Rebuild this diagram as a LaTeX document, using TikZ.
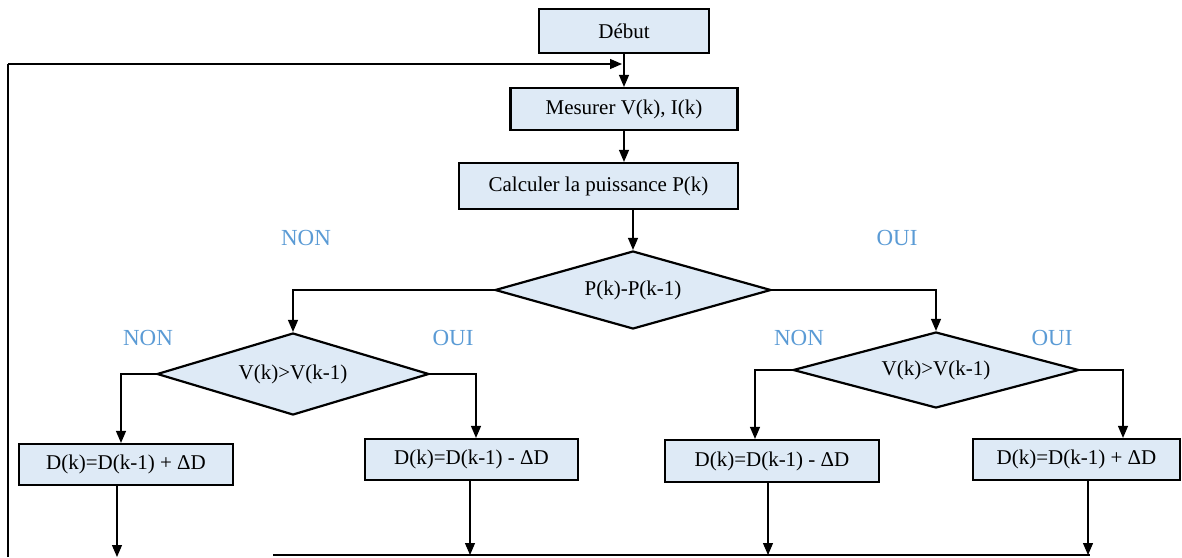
\documentclass[tikz,border=0pt]{standalone}
\usepackage{fontspec}
\setmainfont{Liberation Serif}
\usetikzlibrary{shapes.geometric,arrows.meta,calc}
\definecolor{boxfill}{RGB}{222,234,246}
\definecolor{labelblue}{RGB}{91,155,213}
\begin{document}
\begin{tikzpicture}[x=1pt,y=-1pt,
  stepbox/.style={draw=black,fill=boxfill,line width=2.2pt,rectangle,inner sep=0pt,
    font=\fontsize{21}{24}\selectfont},
  decision/.style={draw=black,fill=boxfill,line width=2.2pt,diamond,aspect=3,inner sep=0pt,
    font=\fontsize{21}{24}\selectfont},
  flow/.style={line width=1.2pt,-{Triangle[width=10pt,length=12pt]}},
  plain/.style={line width=1.2pt},
  answer/.style={text=labelblue,inner sep=0pt,font=\fontsize{23}{26}\selectfont}]
\useasboundingbox (0,0) rectangle (1182,557);

% main column
\node[stepbox,minimum width=170pt,minimum height=44pt] (debut) at (624,31) {Début};
\node[stepbox,minimum width=227pt,minimum height=42pt] (mesure) at (624,109) {Mesurer V(k), I(k)};
\node[stepbox,minimum width=279pt,minimum height=46pt] (calcul) at (598.5,186) {Calculer la puissance P(k)};
\node[decision,minimum width=276pt,minimum height=78pt] (dp) at (633,290) {P(k)-P(k-1)};

% second level tests
\node[decision,minimum width=272pt,minimum height=82pt] (dvl) at (293,374) {V(k)>V(k-1)};
\node[decision,minimum width=286pt,minimum height=76pt] (dvr) at (936,370) {V(k)>V(k-1)};

% duty cycle updates
\node[stepbox,minimum width=214pt,minimum height=41pt] (inc1) at (126,464.5) {D(k)=D(k-1) + ΔD};
\node[stepbox,minimum width=213pt,minimum height=41pt] (dec1) at (471.5,459.5) {D(k)=D(k-1) - ΔD};
\node[stepbox,minimum width=214pt,minimum height=42pt] (dec2) at (772,461) {D(k)=D(k-1) - ΔD};
\node[stepbox,minimum width=207pt,minimum height=41pt] (inc2) at (1076.5,459.5) {D(k)=D(k-1) + ΔD};

% branch labels
\node[answer] (n0) at (306,238) {NON};
\node[answer] (o0) at (897,238) {OUI};
\node[answer] (n1) at (148,338) {NON};
\node[answer] (o1) at (453,338) {OUI};
\node[answer] (n2) at (799,338) {NON};
\node[answer] (o2) at (1052,338) {OUI};

% free ends of the return path
\coordinate (loopin) at (622,64);
\coordinate (loopfoot) at (8,557);
\coordinate (out1) at (117,557);
\coordinate (out2) at (470,555);
\coordinate (out3) at (768,555);
\coordinate (out4) at (1088,555);
\coordinate (busL) at (273,555);
\coordinate (busR) at (1090,555);

% connectors
\draw[flow] (debut) -- (mesure);
\draw[flow] (mesure.south) -- (mesure.south |- calcul.north);
\draw[flow] (dp.north |- calcul.south) -- (dp.north);
\draw[plain] (loopfoot) -- (loopfoot |- loopin);
\draw[flow] (loopfoot |- loopin) -- (loopin);
\draw[flow] (dp.west) -| (dvl.north);
\draw[flow] (dp.east) -| (dvr.north);
\draw[flow] (dvl.west) -| ($(inc1.north)+(-5,0)$);
\draw[flow] (dvl.east) -| ($(dec1.north)+(4.5,0)$);
\draw[flow] (dvr.west) -| ($(dec2.north)+(-17,0)$);
\draw[flow] (dvr.east) -| ($(inc2.north)+(46.5,0)$);
\draw[flow] (inc1.south -| out1) -- (out1);
\draw[flow] (dec1.south -| out2) -- (out2);
\draw[flow] (dec2.south -| out3) -- (out3);
\draw[flow] (inc2.south -| out4) -- (out4);
\draw[plain] (busL) -- (busR);
\end{tikzpicture}
\end{document}
